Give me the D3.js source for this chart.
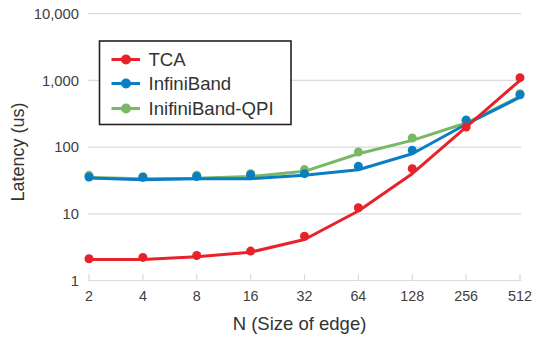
<!DOCTYPE html>
<html><head><meta charset="utf-8">
<script src="https://cdn.jsdelivr.net/npm/d3@7"></script>
<style>body{margin:0;background:#fff}svg{display:block;font-family:"Liberation Sans",Arial,sans-serif}</style>
</head><body><svg id="c" width="534" height="340"></svg>
<script>
const categories = ["2","4","8","16","32","64","128","256","512"];
const yTicks = [1,10,100,1000,10000];
const seriesNames = ["TCA","InfiniBand","InifiniBand-QPI"];
const seriesColors = ["#e8222b","#0a7ec3","#79b866"];
// measured points (markers)
const tcaPoints = [2.12,2.22,2.37,2.76,4.6,12.3,47.5,200,1100];
const ibPoints  = [35.6,35.3,36.3,38.6,40,51.5,89.6,252,610];
const qpiPoints = [37.7,36,37.7,40,46,84.5,137,255,630];
// connecting lines
const tcaLine = [2.07,2.07,2.27,2.66,4.12,11,40,200,1000];
const ibLine  = [34.4,32.5,33.6,33.6,37.7,45.8,79.6,220,560];
const qpiLine = [35,33.6,34,36.3,43.3,79.6,126,230,575];

const pts = [tcaPoints, ibPoints, qpiPoints];
const lns = [tcaLine, ibLine, qpiLine];

const svg = d3.select("#c");
const x = d3.scalePoint().domain(categories).range([89, 520]).padding(0);
const y = d3.scaleLog().domain([1,10000]).range([280.5, 13.7]);

// gridlines
svg.append("g").selectAll("line").data(yTicks).join("line")
  .attr("x1", 88).attr("x2", 521)
  .attr("y1", d => y(d)).attr("y2", d => y(d))
  .attr("stroke", "#d9d9df").attr("stroke-width", 1.2);

// y labels
svg.append("g").selectAll("text").data(yTicks).join("text")
  .attr("x", 79).attr("y", d => y(d)).attr("dy", "0.35em")
  .attr("text-anchor", "end").attr("font-size", 14.8).attr("fill", "#404040")
  .text(d => d3.format(",")(d));

// x ticks
svg.append("g").selectAll("line").data(categories).join("line")
  .attr("x1", d => x(d)).attr("x2", d => x(d))
  .attr("y1", 274).attr("y2", 280.5)
  .attr("stroke", "#d9d9df").attr("stroke-width", 1.2);
svg.append("g").selectAll("text").data(categories).join("text")
  .attr("x", d => x(d)).attr("y", 300.5)
  .attr("text-anchor", "middle").attr("font-size", 14.3).attr("fill", "#404040")
  .text(d => d);

// axis titles
svg.append("text").attr("transform", "translate(24,152) rotate(-90)")
  .attr("text-anchor", "middle").attr("font-size", 18).attr("fill", "#333")
  .text("Latency (us)");
svg.append("text").attr("x", 299.5).attr("y", 330)
  .attr("text-anchor", "middle").attr("font-size", 18.5).attr("fill", "#333")
  .text("N (Size of edge)");

const line = d3.line().x((d,i) => x(categories[i])).y(d => y(d));
// draw series: green, blue, red order (red on top)
[2,1,0].forEach(s => {
  const g = svg.append("g");
  g.append("path").attr("d", line(lns[s])).attr("fill", "none")
    .attr("stroke", seriesColors[s]).attr("stroke-width", 3).attr("stroke-linejoin", "round");
  g.selectAll("circle").data(pts[s]).join("circle")
    .attr("cx", (d,i) => x(categories[i])).attr("cy", d => y(d)).attr("r", 4.5)
    .attr("fill", seriesColors[s]);
});

// legend
const lg = svg.append("g");
lg.append("rect").attr("x", 99.5).attr("y", 41).attr("width", 191.5).attr("height", 83.5)
  .attr("fill", "#fff").attr("stroke", "#222").attr("stroke-width", 1.6);
const rowsY = [59.5, 83.5, 108.5];
seriesNames.forEach((n, i) => {
  lg.append("line").attr("x1", 111.5).attr("x2", 140).attr("y1", rowsY[i]).attr("y2", rowsY[i])
    .attr("stroke", seriesColors[i]).attr("stroke-width", 3);
  lg.append("circle").attr("cx", 126).attr("cy", rowsY[i]).attr("r", 5).attr("fill", seriesColors[i]);
  lg.append("text").attr("x", 148.5).attr("y", rowsY[i]).attr("dy", "0.35em")
    .attr("font-size", 18.6).attr("fill", "#333").text(n);
});
</script></body></html>
